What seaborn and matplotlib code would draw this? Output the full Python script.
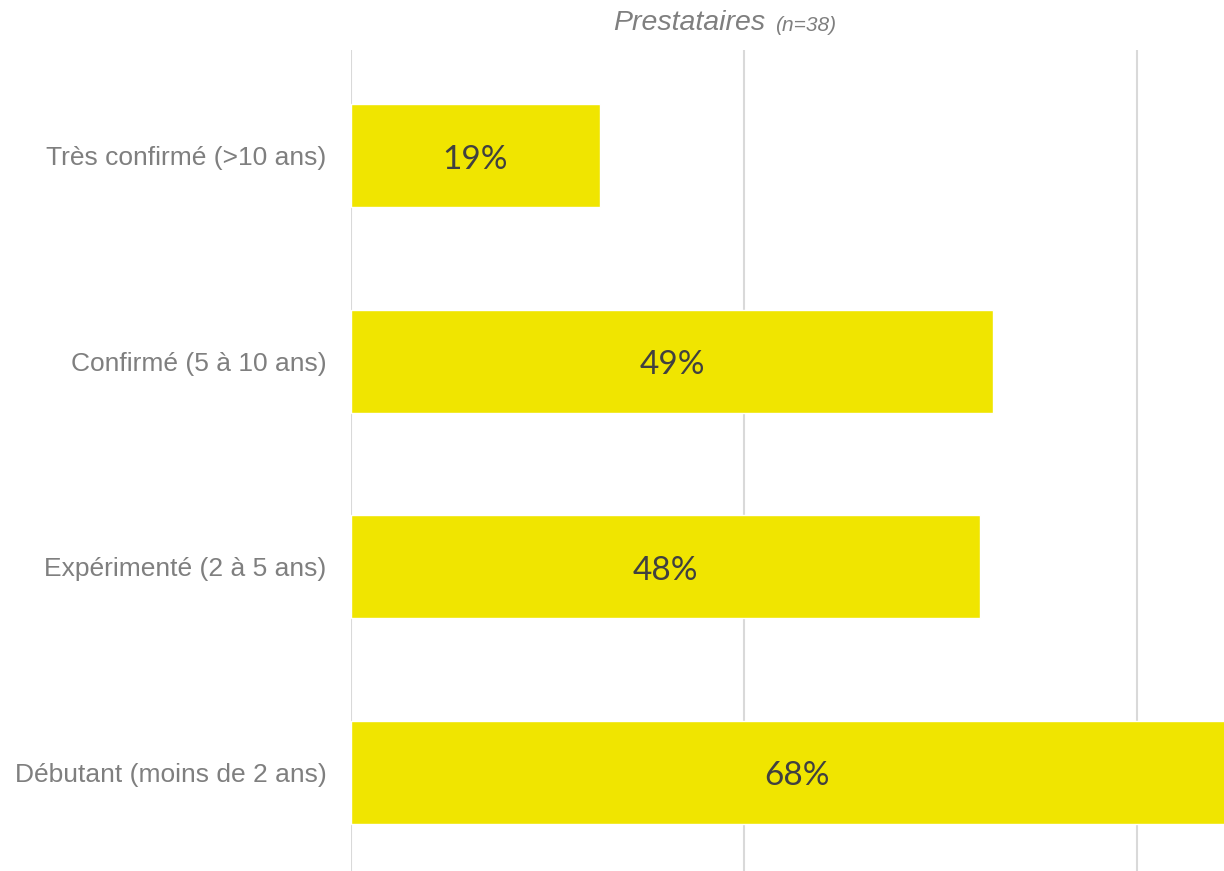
import matplotlib
matplotlib.use("Agg")
import matplotlib.pyplot as plt
import seaborn as sns
import pandas as pd

# data
categories = ["Très confirmé (>10 ans)", "Confirmé (5 à 10 ans)",
              "Expérimenté (2 à 5 ans)", "Débutant (moins de 2 ans)"]
values = [0.19, 0.49, 0.48, 0.68]
grid_ticks = [0.0, 0.3, 0.6]

df = pd.DataFrame({"cat": categories, "val": values})

sns.set_style("white")
plt.rcParams["font.family"] = ["Liberation Sans", "DejaVu Sans"]

fig = plt.figure(figsize=(12.24, 8.71), dpi=100)
ax = fig.add_axes([351 / 1224, 0, 873 / 1224, 821 / 871])

sns.barplot(data=df, x="val", y="cat", orient="h", color="#F0E500",
            saturation=1, width=0.5, ax=ax, zorder=2)

ax.set_xlim(0, 0.666)
ax.set_ylim(3.48, -0.515)
ax.set_xticks(grid_ticks)
ax.xaxis.grid(True, color="#D9D9D9", linewidth=1.5, zorder=0)
ax.set_axisbelow(True)
for s in ax.spines.values():
    s.set_visible(False)
ax.tick_params(axis="x", bottom=False, labelbottom=False)
ax.tick_params(axis="y", left=False, pad=14, labelsize=19, labelcolor="#7F7F7F")
ax.set_xlabel("")
ax.set_ylabel("")

for i, v in enumerate(values):
    ax.text(v / 2, i + 0.02, f"{round(v * 100)}%",
            ha="center", va="center", fontsize=24, color="#404040",
            family=["Lato", "DejaVu Sans"])

fig.text(0.6255, 0.974, "Prestataires", ha="right", va="center",
         fontsize=20.5, style="italic", color="#7F7F7F")
fig.text(0.633, 0.971, "(n=38)", ha="left", va="center",
         fontsize=15, style="italic", color="#7F7F7F")

fig.savefig("out.png", dpi=100, facecolor="white")
